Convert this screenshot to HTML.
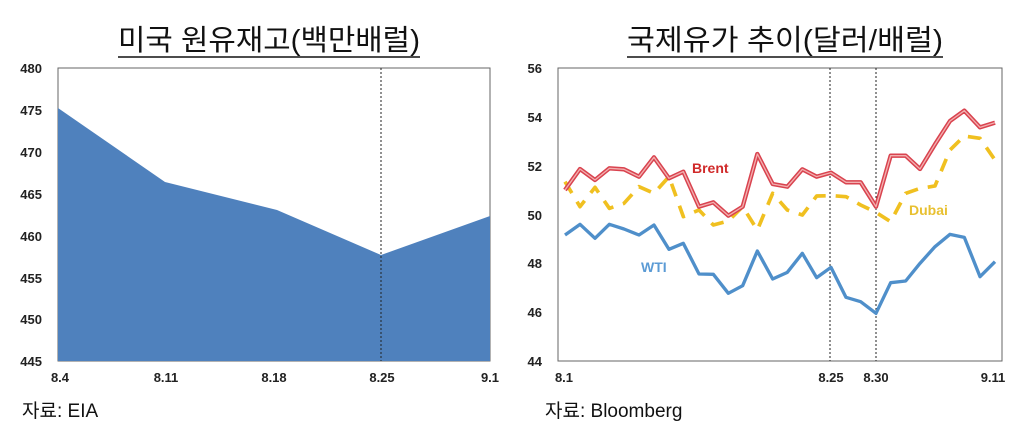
<!DOCTYPE html>
<html><head><meta charset="utf-8"><style>
body{margin:0;background:#fff;width:1024px;height:433px;overflow:hidden}
svg text{font-family:"Liberation Sans","Noto Sans CJK KR",sans-serif}
</style></head><body>
<svg width="1024" height="433" xmlns="http://www.w3.org/2000/svg">
<!-- titles -->
<text x="118" y="50" font-size="29" textLength="302" lengthAdjust="spacingAndGlyphs" fill="#111">미국  원유재고(백만배럴)</text>
<line x1="118" y1="57" x2="420" y2="57" stroke="#111" stroke-width="1.5"/>
<text x="627" y="50" font-size="29" textLength="316" lengthAdjust="spacingAndGlyphs" fill="#111">국제유가 추이(달러/배럴)</text>
<line x1="627" y1="57" x2="943" y2="57" stroke="#111" stroke-width="1.5"/>

<!-- left chart -->
<rect x="58" y="68" width="432" height="293" fill="#fff" stroke="#666" stroke-width="1"/>
<polygon points="58,108 165,182 277,210 381,255 490,216 490,361 58,361" fill="#4f81bd"/>
<line x1="381" y1="68" x2="381" y2="361" stroke="#222" stroke-width="1" stroke-dasharray="2,2"/>
<g font-size="13" font-weight="bold" fill="#222" text-anchor="end">
<text x="42" y="73">480</text><text x="42" y="115">475</text><text x="42" y="157">470</text><text x="42" y="199">465</text>
<text x="42" y="241">460</text><text x="42" y="283">455</text><text x="42" y="324">450</text><text x="42" y="366">445</text>
</g>
<g font-size="13" font-weight="bold" fill="#222" text-anchor="middle">
<text x="60" y="382">8.4</text><text x="166" y="382">8.11</text><text x="274" y="382">8.18</text><text x="382" y="382">8.25</text><text x="490" y="382">9.1</text>
</g>
<text x="22" y="417" font-size="19" fill="#111">자료:  EIA</text>

<!-- right chart -->
<rect x="558" y="68" width="444" height="293" fill="#fff" stroke="#666" stroke-width="1"/>
<line x1="830" y1="68" x2="830" y2="361" stroke="#222" stroke-width="1" stroke-dasharray="2,2"/>
<line x1="876" y1="68" x2="876" y2="361" stroke="#222" stroke-width="1" stroke-dasharray="2,2"/>
<g transform="translate(520,50) scale(0.33333)" fill="none" stroke-linejoin="round">
<polyline stroke="#f0c020" stroke-width="11" stroke-dasharray="40,30" points="135,395 180,470 225,412 268,475 312,460 357,410 402,430 447,380 490,500 537,480 580,525 625,513 668,470 712,540 758,430 802,480 847,495 890,438 933,437 978,440 1022,465 1068,487 1112,515 1157,430 1200,415 1245,408 1290,300 1333,258 1380,265 1425,330"/>
<polyline stroke="#d9434f" stroke-width="13" points="135,420 180,357 225,390 268,355 312,358 357,380 402,322 447,385 490,365 537,470 580,457 625,497 668,470 712,312 758,402 802,410 847,358 890,380 933,368 978,397 1022,397 1068,470 1112,317 1157,317 1200,357 1245,283 1290,213 1333,182 1380,232 1425,218"/>
<polyline stroke="#f2b0b0" stroke-width="4" points="135,420 180,357 225,390 268,355 312,358 357,380 402,322 447,385 490,365 537,470 580,457 625,497 668,470 712,312 758,402 802,410 847,358 890,380 933,368 978,397 1022,397 1068,470 1112,317 1157,317 1200,357 1245,283 1290,213 1333,182 1380,232 1425,218"/>
<polyline stroke="#4f8fca" stroke-width="10" points="135,555 180,523 225,565 268,523 312,537 357,555 402,525 447,598 490,580 537,672 580,673 625,730 668,707 712,603 758,687 802,667 847,610 890,683 933,652 978,742 1022,755 1068,790 1112,698 1157,693 1200,640 1245,590 1290,553 1333,562 1380,680 1425,635"/>
</g>
<text x="692" y="173" font-size="14" font-weight="bold" fill="#d02a2a">Brent</text>
<text x="909" y="215" font-size="14" font-weight="bold" fill="#e8c030">Dubai</text>
<text x="641" y="272" font-size="14" font-weight="bold" fill="#5b9bd5">WTI</text>
<g font-size="13" font-weight="bold" fill="#222" text-anchor="end">
<text x="542" y="73">56</text><text x="542" y="122">54</text><text x="542" y="171">52</text><text x="542" y="220">50</text>
<text x="542" y="268">48</text><text x="542" y="317">46</text><text x="542" y="366">44</text>
</g>
<g font-size="13" font-weight="bold" fill="#222" text-anchor="middle">
<text x="564" y="382">8.1</text><text x="831" y="382">8.25</text><text x="876" y="382">8.30</text><text x="993" y="382">9.11</text>
</g>
<text x="545" y="417" font-size="19" fill="#111">자료:  Bloomberg</text>
</svg>
</body></html>
